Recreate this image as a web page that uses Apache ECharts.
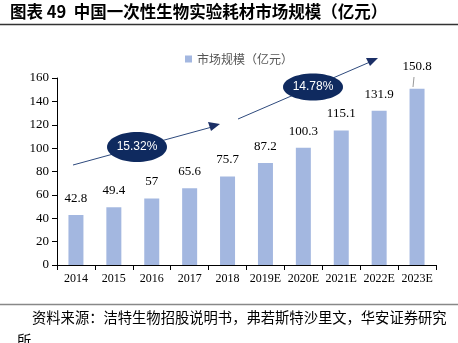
<!DOCTYPE html>
<html><head><meta charset="utf-8">
<script src="https://cdn.jsdelivr.net/npm/echarts@6/dist/echarts.min.js"></script>
<style>html,body{margin:0;padding:0;background:#fff;}#c{width:458px;height:343px;}</style>
</head><body><div id="c"></div>
<script>
var categories = ['2014','2015','2016','2017','2018','2019E','2020E','2021E','2022E','2023E'];
var values = [42.8,49.4,57,65.6,75.7,87.2,100.3,115.1,131.9,150.8];
var seriesName = '市场规模（亿元）';
var cagr1 = '15.32%';
var cagr2 = '14.78%';
var yTicks = [0,20,40,60,80,100,120,140,160];

var chart = echarts.init(document.getElementById('c'));
var serif = '"Liberation Serif","Times New Roman",serif';
var cjk = '"Noto Sans CJK SC",sans-serif';
var barData = values.map(function(v,i){
  var d = {value:v};
  if(i===values.length-1){ d.label = {distance:16}; }
  return d;
});
chart.setOption({
  animation:false,
  backgroundColor:'#fff',
  legend:{top:48,left:180,itemWidth:7,itemHeight:7,itemGap:4,icon:'rect',
    textStyle:{fontFamily:cjk,fontSize:12,color:'#555'},data:[seriesName]},
  grid:{left:57,right:22,top:78,bottom:78},
  xAxis:{type:'category',data:categories,
    axisLine:{lineStyle:{color:'#000',width:1}},
    axisTick:{show:true,alignWithLabel:false,lineStyle:{color:'#000'}},
    axisLabel:{fontFamily:serif,fontSize:12,color:'#000',interval:0,margin:8}},
  yAxis:{type:'value',min:0,max:160,interval:20,
    axisLine:{show:true,lineStyle:{color:'#000'}},
    axisTick:{show:true,lineStyle:{color:'#000'}},
    splitLine:{show:false},
    axisLabel:{fontFamily:serif,fontSize:13,color:'#000',margin:8}},
  series:[{name:seriesName,type:'bar',data:barData,barWidth:15,
    itemStyle:{color:'#A3B7E0'},
    label:{show:true,position:'top',distance:10,fontFamily:serif,fontSize:13,color:'#000'}}],
  graphic:[
    {type:'text',left:10,top:3,style:{text:'图表 49  中国一次性生物实验耗材市场规模（亿元）',font:'bold 16.5px "Noto Sans CJK SC",sans-serif',fill:'#000'}},
    {type:'line',shape:{x1:0,y1:24.5,x2:458,y2:24.5},style:{stroke:'#333',lineWidth:1.5}},
    {type:'line',shape:{x1:0,y1:304.5,x2:458,y2:304.5},style:{stroke:'#888',lineWidth:1.5}},
    {type:'text',left:32,top:310,style:{text:'资料来源：洁特生物招股说明书，弗若斯特沙里文，华安证券研究',font:'14.3px "Noto Sans CJK SC",sans-serif',fill:'#000'}},
    {type:'text',left:17,top:333,style:{text:'所',font:'14.3px "Noto Sans CJK SC",sans-serif',fill:'#000'}},
    {type:'line',shape:{x1:414,y1:77,x2:413,y2:87},style:{stroke:'#999',lineWidth:1}},
    // arrow 1
    {type:'line',shape:{x1:73,y1:165,x2:212,y2:127},style:{stroke:'#2E4A7D',lineWidth:1}},
    {type:'polygon',shape:{points:[[220,124],[208,122],[211,131]]},style:{fill:'#1B2F66'}},
    {type:'ellipse',shape:{cx:137,cy:147,rx:30,ry:15},style:{fill:'#0F2A5F'}},
    {type:'text',x:137,y:147,style:{text:cagr1,font:'12px "Liberation Sans",Arial,sans-serif',fill:'#fff',align:'center',verticalAlign:'middle'}},
    // arrow 2
    {type:'line',shape:{x1:238,y1:119,x2:370,y2:62},style:{stroke:'#2E4A7D',lineWidth:1}},
    {type:'polygon',shape:{points:[[378,58],[366,58],[370,66]]},style:{fill:'#1B2F66'}},
    {type:'ellipse',shape:{cx:313,cy:87,rx:30,ry:13.5},style:{fill:'#0F2A5F'}},
    {type:'text',x:313,y:87,style:{text:cagr2,font:'12px "Liberation Sans",Arial,sans-serif',fill:'#fff',align:'center',verticalAlign:'middle'}}
  ]
});
</script></body></html>
